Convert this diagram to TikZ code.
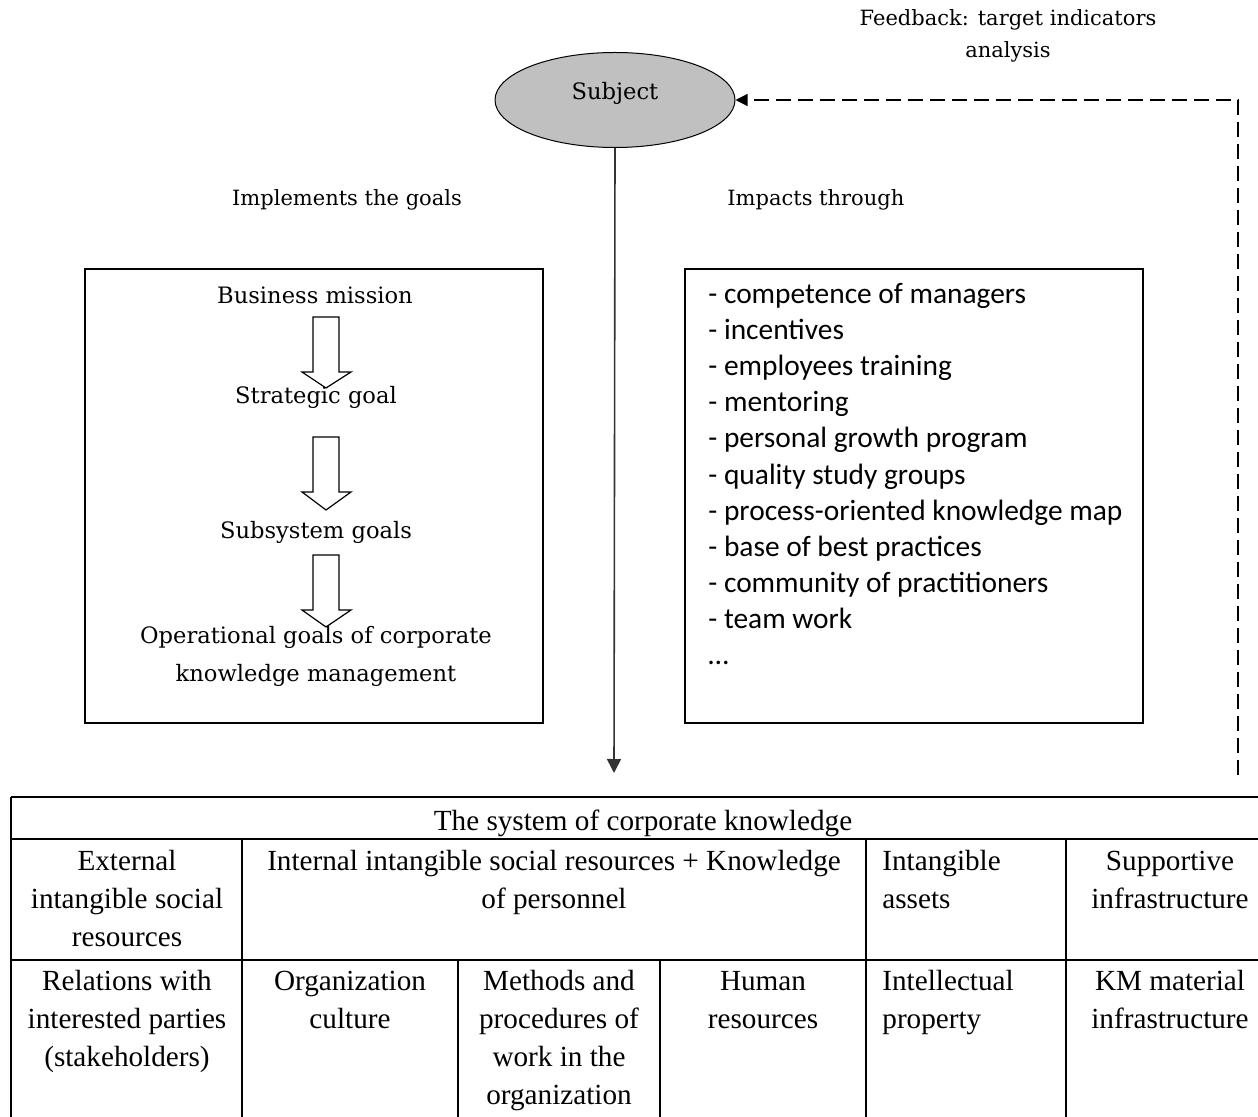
\documentclass[tikz,border=0pt]{standalone}
\usepackage{fontspec}
\setmainfont{Liberation Serif}
\newfontfamily\screenfont{DejaVu Serif}
\newfontfamily\listfont{Carlito}
\usetikzlibrary{positioning, arrows.meta, shapes.geometric}

\definecolor{subjgray}{RGB}{192,192,192}

\tikzset{
    upper/.style={font=\screenfont\fontsize{10.5}{16}\selectfont, align=center, inner sep=0pt},
    goal/.style={font=\screenfont\fontsize{11.3}{19}\selectfont, align=center, inner sep=0pt},
    listline/.style={font=\listfont\fontsize{14.7}{18}\selectfont, anchor=base west, inner sep=0pt},
    cell/.style={font=\fontsize{14.6}{19}\selectfont, align=center, anchor=base, inner sep=0pt},
    cellleft/.style={cell, align=left, anchor=base west},
    gridline/.style={line width=1.1pt},
    frame/.style={draw, line width=0.7pt, minimum width=229pt, minimum height=227pt},
    hollow/.style={draw, line width=0.6pt},
    conn/.style={line width=0.8pt, black!80, -{Triangle[length=7pt, width=7pt]}},
    feedback/.style={line width=0.6pt, dash pattern=on 7.5pt off 3.5pt, -{Triangle[length=6pt, width=6pt]}}
}

\begin{document}
\begin{tikzpicture}[x=0.5pt, y=-0.5pt]
    \useasboundingbox (0,0) rectangle (1258,1117);
    \clip (0,0) rectangle (1258,1117);

    % subject and feedback
    \node[ellipse, draw, line width=0.5pt, fill=subjgray, minimum width=120pt, minimum height=47.5pt,
          label={[goal, yshift=3.5pt]center:Subject}] (subj) at (615,100) {};
    \node[upper] (fb) at (1008,36) {Feedback: target indicators\\analysis};
    \node[upper] (impl) at (347,200) {Implements the goals};
    \node[upper, anchor=west] (impact) at (727,200) {Impacts through};

    % goals box
    \node[frame] (goalbox) at (314,496) {};
    \node[goal] (mission) at (315,295) {Business mission};
    \node[goal] (strat) at (316,397) {Strategic goal};
    \node[goal] (subsys) at (316,532) {Subsystem goals};
    \node[goal] (oper) at (316,656) {Operational goals of corporate\\knowledge management};
    \foreach \t/\h/\e in {317/372/388, 437/492/510, 555/610/627}
        \draw[hollow] (313,\t) -- (339,\t) -- (339,\h) -- (351,\h) -- (326,\e) -- (302,\h) -- (313,\h) -- cycle;

    % tools box
    \node[frame] (toolbox) at (914,496) {};
    \foreach \entry [count=\i from 0] in {- competence of managers, - incentives, - employees training, - mentoring, - personal growth program, - quality study groups, - process-oriented knowledge map, - base of best practices, - community of practitioners, - team work, \ldots}
        \node[listline] (tool\i) at (708,304+36*\i) {\entry};

    % table of corporate knowledge
    \draw[gridline] (11,797) -- (1275,797);
    \draw[gridline] (11,839) -- (1275,839);
    \draw[gridline] (11,960) -- (1275,960);
    \draw[gridline] (11,797) -- (11,1135);
    \draw[gridline] (1275,797) -- (1275,1135);
    \foreach \x in {242, 866, 1066}
        \draw[gridline] (\x,839) -- (\x,1135);
    \foreach \x in {458, 660}
        \draw[gridline] (\x,960) -- (\x,1135);

    % base anchor sits on the last line
    \node[cell] (syshead) at (643,830) {The system of corporate knowledge};
    \node[cell] (external) at (127,946) {External\\intangible social\\resources};
    \node[cell] (internal) at (554,908) {Internal intangible social resources + Knowledge\\of personnel};
    \node[cellleft] (assets) at (882,908) {Intangible\\assets};
    \node[cell] (support) at (1170,908) {Supportive\\infrastructure};
    \node[cell] (relations) at (127,1066) {Relations with\\interested parties\\(stakeholders)};
    \node[cell] (culture) at (350,1028) {Organization\\culture};
    \node[cell] (methods) at (559,1104) {Methods and\\procedures of\\work in the\\organization};
    \node[cell] (human) at (763,1028) {Human\\resources};
    \node[cellleft] (property) at (882,1028) {Intellectual\\property};
    \node[cell] (material) at (1170,1028) {KM material\\infrastructure};

    % connectors
    \coordinate (sysk) at (614,773);
    \coordinate (fbfoot) at (1238,775);
    \draw[conn] (subj.south) -- (sysk);
    \draw[feedback] (fbfoot) |- (subj.east);
\end{tikzpicture}
\end{document}
